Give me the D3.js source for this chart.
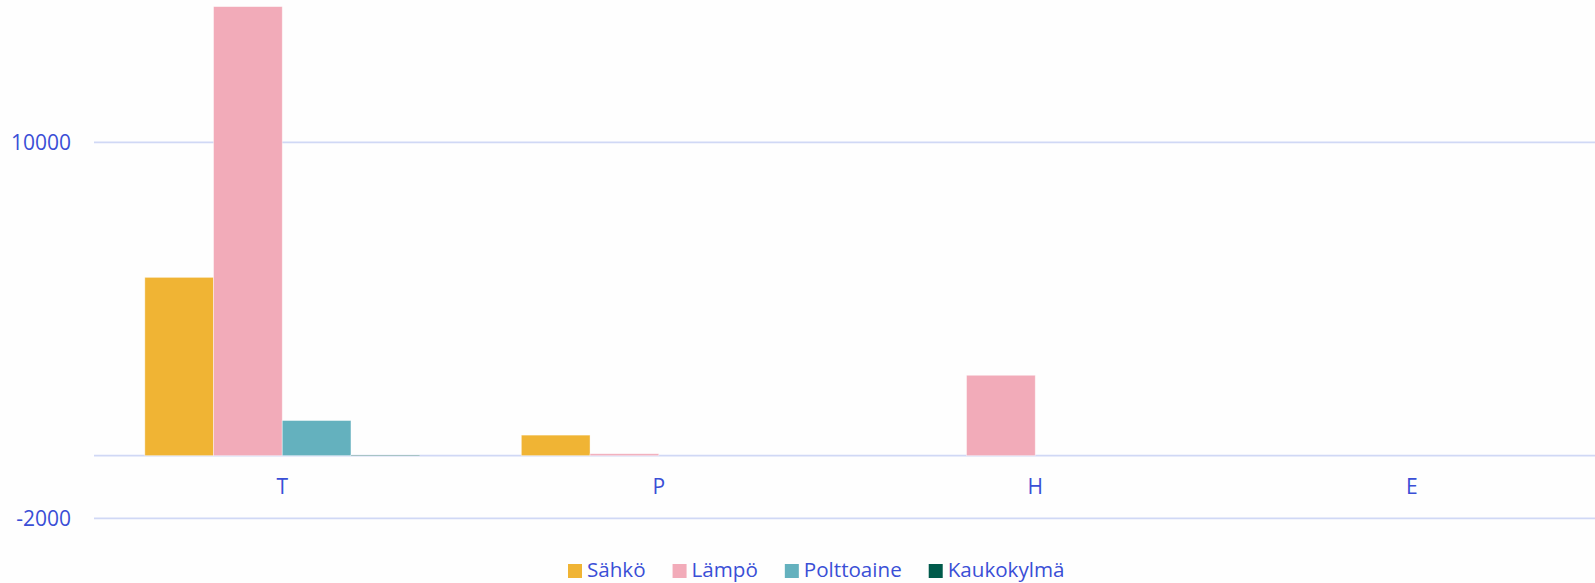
<!DOCTYPE html>
<html><head><meta charset="utf-8">
<script src="https://cdn.jsdelivr.net/npm/d3@7"></script>
<style>body{margin:0;background:#fefefe;}svg{display:block;}text{font-family:"Open Sans",sans-serif;}</style>
</head><body>
<svg id="c" width="1595" height="583"></svg>
<script>
const categories = ["T", "P", "H", "E"];
const seriesNames = ["Sähkö", "Lämpö", "Polttoaine", "Kaukokylmä"];
const sahko = [5690, 655, 0, 0];
const lampo = [14330, 60, 2565, 0];
const polttoaine = [1120, 0, 0, 0];
const kaukokylma = [20, 0, 0, 0];
const yTickLabels = [-2000, 10000];
const gridValues = [-2000, 0, 10000];
const colors = ["#F0B434", "#F2ABB9", "#64B1BE", "#005A4B"];

const seriesValues = [sahko, lampo, polttoaine, kaukokylma];
const textColor = "#3A4FD6";
const gridColor = "#D0D8F5";

const svg = d3.select("#c");
const W = 1595, H = 583;
svg.append("rect").attr("width", W).attr("height", H).attr("fill", "#fefefe");

const left = 94, right = 1600;
const y = d3.scaleLinear().domain([-2000, 10000]).range([518.3, 142.3]);
const x0 = d3.scaleBand().domain(categories).range([left, right]).paddingInner(0.27).paddingOuter(0.135);
const x1 = d3.scaleBand().domain(seriesNames).range([0, x0.bandwidth()]);

// gridlines
svg.append("g").selectAll("line").data(gridValues).join("line")
  .attr("x1", left).attr("x2", W)
  .attr("y1", d => y(d)).attr("y2", d => y(d))
  .attr("stroke", gridColor).attr("stroke-width", 1.8);

// y labels
svg.append("g").selectAll("text").data(yTickLabels).join("text")
  .attr("x", 71).attr("y", d => y(d)).attr("dy", "0.35em")
  .attr("text-anchor", "end").attr("font-size", 21).attr("fill", textColor)
  .text(d => d);

// bars
const g = svg.append("g");
seriesNames.forEach((s, si) => {
  g.append("g").selectAll("rect").data(categories).join("rect")
    .attr("x", c => x0(c) + x1(s))
    .attr("width", x1.bandwidth())
    .attr("y", (c, i) => y(Math.max(0, seriesValues[si][i])))
    .attr("height", (c, i) => Math.abs(y(seriesValues[si][i]) - y(0)))
    .attr("fill", colors[si])
    .attr("stroke", "#ffffff").attr("stroke-opacity", 0.5).attr("stroke-width", 0.8);
});

// category labels
svg.append("g").selectAll("text").data(categories).join("text")
  .attr("x", c => x0(c) + x0.bandwidth() / 2).attr("y", 494)
  .attr("text-anchor", "middle").attr("font-size", 21).attr("fill", textColor)
  .text(c => c);

// legend
const lg = svg.append("g");
let lx = 568;
seriesNames.forEach((s, i) => {
  lg.append("rect").attr("x", lx).attr("y", 564).attr("width", 14).attr("height", 14).attr("fill", colors[i]);
  const t = lg.append("text").attr("x", lx + 19).attr("y", 577).attr("font-size", 20.6).attr("fill", textColor).text(s);
  lx += 19 + t.node().getComputedTextLength() + 27;
});
</script>
</body></html>
